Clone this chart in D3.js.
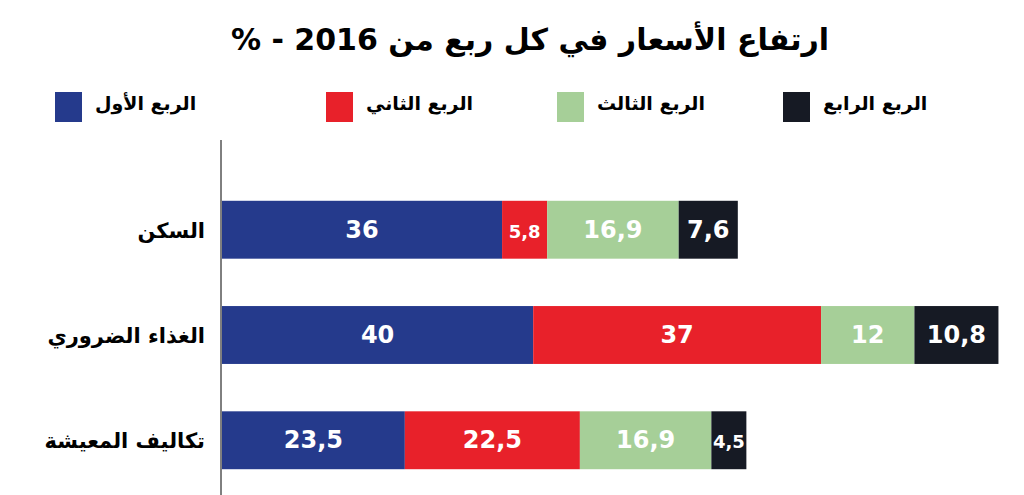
<!DOCTYPE html>
<html><head><meta charset="utf-8">
<script src="https://cdn.jsdelivr.net/npm/d3@7"></script>
<style>body{margin:0;background:#fff}svg{font-family:"DejaVu Sans",sans-serif;font-weight:bold}</style>
</head><body>
<script>
const categories = ["السكن", "الغذاء الضروري", "تكاليف المعيشة"];
const seriesNames = ["الربع الأول", "الربع الثاني", "الربع الثالث", "الربع الرابع"];
const q1 = [36, 40, 23.5];
const q2 = [5.8, 37, 22.5];
const q3 = [16.9, 12, 16.9];
const q4 = [7.6, 10.8, 4.5];
const colors = ["#253a8c", "#e8212a", "#a6cf98", "#161a24"];

const width = 1024, height = 495;
const svg = d3.select("body").append("svg").attr("width", width).attr("height", height);

svg.append("text").attr("x", 530).attr("y", 50).attr("text-anchor", "middle")
  .attr("font-size", 30).attr("direction", "rtl").text("ارتفاع الأسعار في كل ربع من 2016 - %");

// legend
const legendX = [55, 326, 557, 783];
seriesNames.forEach((s, i) => {
  svg.append("rect").attr("x", legendX[i]).attr("y", 92).attr("width", 27).attr("height", 30).attr("fill", colors[i]);
  svg.append("text").attr("x", legendX[i] + 40).attr("y", 110).attr("font-size", 19)
    .attr("text-anchor", "start").attr("direction", "ltr").text(s);
});

const rows = categories.map((c, i) => ({cat: c, vals: [q1[i], q2[i], q3[i], q4[i]]}));
const x = d3.scaleLinear().domain([0, 100]).range([222, 1000]);
const y = d3.scaleBand().domain(categories).range([185, 485]).paddingInner(0.45).paddingOuter(0.15);

svg.append("line").attr("x1", 221).attr("x2", 221).attr("y1", 140).attr("y2", 495).attr("stroke", "#000");

rows.forEach(r => {
  let acc = 0;
  const g = svg.append("g");
  r.vals.forEach((v, j) => {
    const x0 = x(acc), x1 = x(acc + v);
    g.append("rect").attr("x", x0).attr("y", y(r.cat)).attr("width", x1 - x0).attr("height", y.bandwidth()).attr("fill", colors[j]);
    g.append("text").attr("x", (x0 + x1) / 2).attr("y", y(r.cat) + y.bandwidth() / 2 + 8)
      .attr("text-anchor", "middle").attr("fill", "#fff").attr("font-size", v < 6 ? 18 : 24)
      .text(String(v).replace(".", ","));
    acc += v;
  });
  svg.append("text").attr("x", 205).attr("y", y(r.cat) + y.bandwidth() / 2 + 8)
    .attr("text-anchor", "end").attr("font-size", 21).attr("direction", "ltr").text(r.cat);
});
</script>
</body></html>
